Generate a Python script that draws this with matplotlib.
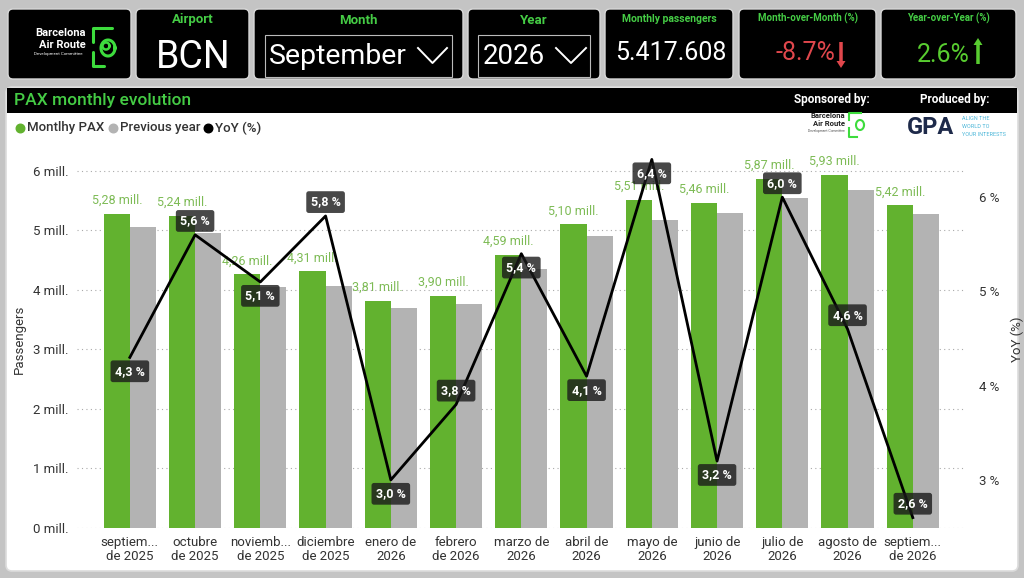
import matplotlib
matplotlib.use("Agg")
import matplotlib.pyplot as plt
from matplotlib.patches import FancyBboxPatch, Rectangle, FancyArrow
import numpy as np

plt.rcParams['font.family'] = ['Roboto', 'DejaVu Sans']

# ---------------- data ----------------
months = ["septiem...\nde 2025", "octubre\nde 2025", "noviemb...\nde 2025", "diciembre\nde 2025",
          "enero de\n2026", "febrero\nde 2026", "marzo de\n2026", "abril de\n2026",
          "mayo de\n2026", "junio de\n2026", "julio de\n2026", "agosto de\n2026",
          "septiem...\nde 2026"]
pax = [5.28, 5.24, 4.26, 4.31, 3.81, 3.90, 4.59, 5.10, 5.51, 5.46, 5.87, 5.93, 5.42]
prev_year = [5.06, 4.96, 4.05, 4.07, 3.70, 3.76, 4.35, 4.90, 5.18, 5.29, 5.54, 5.67, 5.28]
yoy = [4.3, 5.6, 5.1, 5.8, 3.0, 3.8, 5.4, 4.1, 6.4, 3.2, 6.0, 4.6, 2.6]
yoy_label_above = [False, True, False, True, False, True, False, False, False, False, True, True, True]
left_ticks = [0, 1, 2, 3, 4, 5, 6]
right_ticks = [3, 4, 5, 6]

kpi_airport = "BCN"
kpi_month = "September"
kpi_year = "2026"
kpi_pax = "5.417.608"
kpi_mom = "-8.7%"
kpi_yoy = "2.6%"

GREEN_HDR = "#45cc45"
GREEN_BAR = "#62b22f"
GREEN_LBL = "#7dbb55"
GRAY_BAR = "#b3b3b3"
BG = "#c4c4c4"

W, H = 1024, 578
fig = plt.figure(figsize=(W / 100, H / 100), dpi=100)
fig.patch.set_facecolor(BG)

bg = fig.add_axes([0, 0, 1, 1], zorder=0)
bg.set_xlim(0, W)
bg.set_ylim(H, 0)
bg.axis("off")


def rbox(x0, y0, x1, y1, fc, ec="#d8d8d8", lw=1.0, r=5):
    p = FancyBboxPatch((x0 + r, y0 + r), (x1 - x0) - 2 * r, (y1 - y0) - 2 * r,
                       boxstyle=f"round,pad={r}", fc=fc, ec=ec, lw=lw)
    bg.add_patch(p)


# header boxes
boxes = [(8, 131), (136, 249), (254, 463), (468, 600), (605, 733), (739, 876), (881, 1016)]
for x0, x1 in boxes:
    rbox(x0, 9, x1, 79, "black")

# logo box
bg.text(60, 33, "Barcelona", color="white", fontsize=8, fontweight="bold", ha="center", va="center")
bg.text(62, 45, "Air Route", color="white", fontsize=8, fontweight="bold", ha="center", va="center")
bg.text(58, 54, "Development Committee", color="white", fontsize=3.2, ha="center", va="center")
# simple green loop mark
t = np.linspace(0, 2 * np.pi, 100)
bg.plot([93, 93, 112], [42, 28, 28], color="#3ddc3d", lw=2.2, solid_capstyle="round")
bg.plot(108 + 7 * np.cos(t), 48 + 8 * np.sin(t), color="#3ddc3d", lw=2.2)
bg.plot([93, 93, 104], [52, 66, 66], color="#3ddc3d", lw=2.2, solid_capstyle="round")
bg.plot(106 + 3.5 * np.cos(t), 46 + 3.5 * np.sin(t), color="#3ddc3d", lw=1.8)

# Airport
bg.text(192.5, 20, "Airport", color=GREEN_HDR, fontsize=9.5, fontweight="bold", ha="center", va="center")
bg.text(193.5, 57, kpi_airport, color="white", fontsize=27, ha="center", va="center")

# Month
bg.text(358.5, 20, "Month", color=GREEN_HDR, fontsize=9.5, fontweight="bold", ha="center", va="center")
bg.add_patch(Rectangle((265, 35), 187, 42, fc="none", ec="#bbbbbb", lw=0.8))
bg.text(269, 57, kpi_month, color="white", fontsize=20.5, ha="left", va="center")
bg.plot([418, 432.5, 447], [48, 63, 48], color="white", lw=1.4)

# Year
bg.text(534, 20, "Year", color=GREEN_HDR, fontsize=9.5, fontweight="bold", ha="center", va="center")
bg.add_patch(Rectangle((478, 35), 112, 42, fc="none", ec="#bbbbbb", lw=0.8))
bg.text(483, 57, kpi_year, color="white", fontsize=20, ha="left", va="center")
bg.plot([556, 571, 586], [48, 63, 48], color="white", lw=1.4)

# Monthly passengers
bg.text(669, 19, "Monthly passengers", color=GREEN_HDR, fontsize=7.5, fontweight="bold", ha="center", va="center")
bg.text(671, 53, kpi_pax, color="white", fontsize=18, ha="center", va="center")

# MoM
bg.text(807.5, 18, "Month-over-Month (%)", color=GREEN_HDR, fontsize=7, fontweight="bold", ha="center", va="center")
bg.text(835, 53, kpi_mom, color="#e0474c", fontsize=18, ha="right", va="center")
bg.add_patch(FancyArrow(841, 42, 0, 19, width=3.5, head_width=9, head_length=7, color="#e0474c", lw=0))

# YoY
bg.text(948.5, 18, "Year-over-Year (%)", color=GREEN_HDR, fontsize=7, fontweight="bold", ha="center", va="center")
bg.text(970, 55, kpi_yoy, color="#58cc30", fontsize=18, ha="right", va="center")
bg.add_patch(FancyArrow(978, 64, 0, -19, width=3.5, head_width=9, head_length=7, color="#58cc30", lw=0))

# main panel
rbox(6, 87, 1018, 571, "white", ec="#dcdcdc", lw=1.2, r=6)
bg.add_patch(Rectangle((7, 88), 1010, 25, fc="black", ec="none"))
bg.text(14, 100.5, "PAX monthly evolution", color=GREEN_HDR, fontsize=12.5, fontweight="medium",
        ha="left", va="center")
bg.text(832, 99, "Sponsored by:", color="white", fontsize=8.5, fontweight="bold", ha="center", va="center")
bg.text(955, 99, "Produced by:", color="white", fontsize=8.5, fontweight="bold", ha="center", va="center")

# sponsor logos (small)
bg.text(845, 116, "Barcelona", color="#222222", fontsize=5.5, fontweight="bold", ha="right", va="center")
bg.text(845, 124, "Air Route", color="#222222", fontsize=5.5, fontweight="bold", ha="right", va="center")
bg.text(845, 131, "Development Committee", color="#555555", fontsize=2.4, ha="right", va="center")
bg.plot([849, 849, 861], [120, 113, 113], color="#3ddc3d", lw=1.5)
bg.plot(860 + 4 * np.cos(t), 125 + 5 * np.sin(t), color="#3ddc3d", lw=1.5)
bg.plot([849, 849, 857], [128, 137, 137], color="#3ddc3d", lw=1.5)
bg.text(930, 128, "GPA", color="#1e2a4a", fontsize=17, fontweight="bold", ha="center", va="center")
bg.text(962, 119, "ALIGN THE", color="#4bb6d8", fontsize=4, ha="left", va="center")
bg.text(962, 127, "WORLD TO", color="#4bb6d8", fontsize=4, ha="left", va="center")
bg.text(962, 135, "YOUR INTERESTS", color="#4bb6d8", fontsize=4, ha="left", va="center")

# legend
leg_items = [(20, "Montlhy PAX", GREEN_BAR), (113, "Previous year", GRAY_BAR), (208, "YoY (%)", "black")]
for x, lab, col in leg_items:
    bg.scatter([x], [128], s=38, color=col, zorder=3)
    bg.text(x + 7, 128, lab, color="#333333", fontsize=9.5, fontweight="medium", ha="left", va="center")

# ---------------- chart axes ----------------
L, R, T, B = 77, 965, 150, 528
ax = fig.add_axes([L / W, (H - B) / H, (R - L) / W, (B - T) / H], zorder=2)
ax.set_facecolor("none")
x = np.arange(len(months))
bw = 0.4
ax.bar(x - bw / 2, pax, width=bw, color=GREEN_BAR, zorder=2)
ax.bar(x + bw / 2, prev_year, width=bw, color=GRAY_BAR, zorder=2)
ax.set_xlim(-0.81, 12.8)
ax.set_ylim(0, 6.35)
ax.set_yticks(left_ticks)
ax.set_yticklabels([f"{v} mill." for v in left_ticks], fontsize=9.5, color="#333333")
ax.set_xticks(x)
ax.set_xticklabels(months, fontsize=9.5, color="#333333", linespacing=1.1)
ax.tick_params(axis="both", length=0, pad=6)
ax.grid(axis="y", linestyle=(0, (1, 3)), color="#aaaaaa", lw=0.8, zorder=0)
for s in ax.spines.values():
    s.set_visible(False)
ax.set_ylabel("Passengers", fontsize=9.5, color="#333333", labelpad=5)

for xi, v in zip(x, pax):
    ax.annotate(f"{v:.2f} mill.".replace(".", ",", 1), (xi - bw / 2, v), xytext=(0, 5),
                textcoords="offset points", ha="center", va="bottom", fontsize=9,
                color=GREEN_LBL, zorder=4)

ax2 = ax.twinx()
ax2.set_zorder(3)
ax2.set_ylim(2.49, 6.5)
ax2.plot(x, yoy, color="black", lw=2, zorder=3)
ax2.set_yticks(right_ticks)
ax2.set_yticklabels([f"{v} %" for v in right_ticks], fontsize=9.5, color="#333333")
ax2.tick_params(axis="y", length=0, pad=10)
for s in ax2.spines.values():
    s.set_visible(False)
ax2.set_ylabel("YoY (%)", fontsize=9.5, color="#333333", labelpad=8)

for xi, v, up in zip(x, yoy, yoy_label_above):
    ax2.annotate(f"{v:.1f} %".replace(".", ","), (xi, v), xytext=(0, 10 if up else -10),
                 textcoords="offset points", ha="center", va="center", fontsize=9,
                 color="white", fontweight="bold", zorder=5,
                 bbox=dict(boxstyle="round,pad=0.35,rounding_size=0.2", fc=(0.1, 0.1, 0.1, 0.8), ec="none"))

fig.savefig("out.png", dpi=100, facecolor=fig.get_facecolor())
